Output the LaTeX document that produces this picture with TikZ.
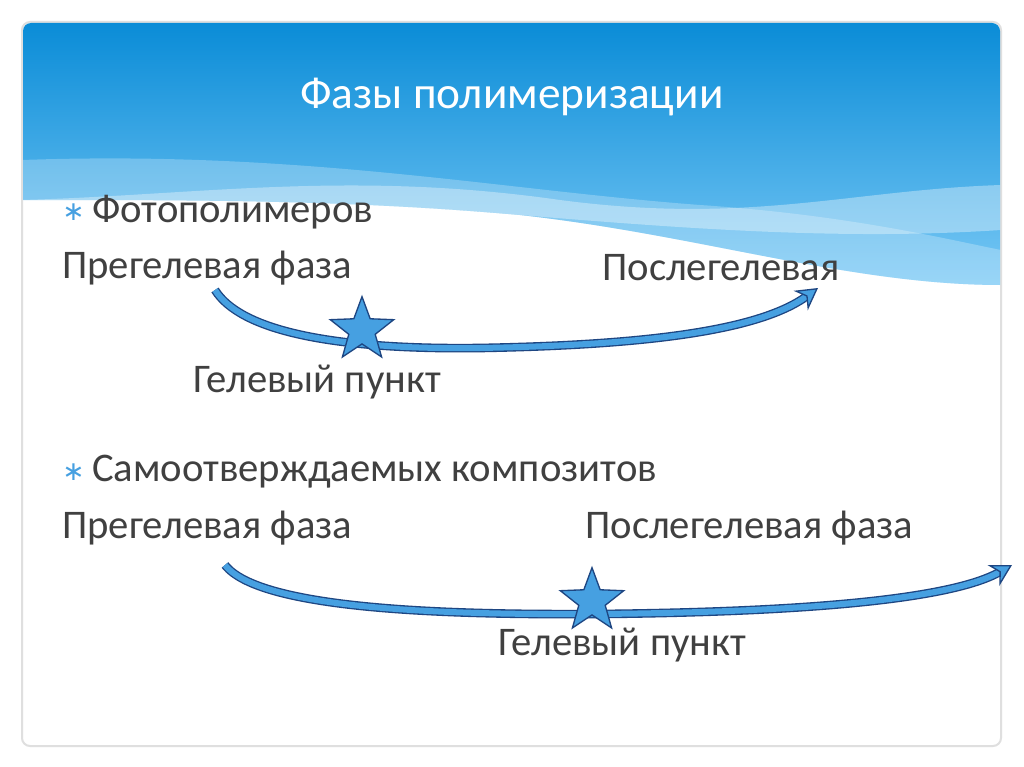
\documentclass[tikz,border=0pt]{standalone}
\usepackage{fontspec}
\setmainfont{Carlito}
\usetikzlibrary{shapes.geometric,arrows.meta}
\definecolor{hdtop}{RGB}{10,140,215}
\definecolor{hdbot}{RGB}{120,200,245}
\definecolor{arrfill}{RGB}{70,160,225}
\definecolor{arrline}{RGB}{30,70,130}
\definecolor{txt}{RGB}{64,64,64}
\tikzset{
 body/.style={anchor=west,font=\fontsize{30.5}{34}\selectfont,text=txt,inner sep=0},
 bul/.style={anchor=west,font=\fontsize{20}{22}\selectfont,text=arrfill,inner sep=0},
 curvearr/.style={draw=arrline,line width=1pt,double=arrfill,double distance=4.5pt,-{Stealth[length=16pt,width=18pt,fill=arrfill]}},
 gelstar/.style={star,star points=5,star point ratio=2.4,minimum size=50pt,fill=arrfill,draw=arrline,line width=1pt,inner sep=0}
}
\begin{document}
\begin{tikzpicture}[x=0.75pt,y=-0.75pt]
\useasboundingbox (0,0) rectangle (1024,767);
\fill[white] (0,0) rectangle (1024,767);
\draw[gray!25,line width=1.5pt,rounded corners=6pt] (22,22) rectangle (1001,746);
\begin{scope}
\clip[rounded corners=6pt] (23,23) rectangle (1000,745);
\shade[top color=hdtop,bottom color=hdbot] (22,22) -- (1001,22) -- (1001,285)
 .. controls (850,285) and (700,235) .. (520,215) .. controls (350,200) and (200,200) .. (22,200) -- cycle;
\fill[white,opacity=0.35] (22,200) .. controls (200,195) and (350,170) .. (560,200) .. controls (750,225) and (850,190) .. (1001,185) -- (1001,230) .. controls (850,240) and (700,230) .. (520,215) .. controls (350,200) and (200,205) .. (22,205) -- cycle;
\fill[white,opacity=0.25] (22,160) .. controls (300,150) and (500,190) .. (700,205) .. controls (850,215) and (950,240) .. (1001,250) -- (1001,285) .. controls (850,285) and (700,235) .. (520,215) .. controls (350,200) and (200,200) .. (22,200) -- cycle;
\end{scope}
\node[anchor=west,font=\fontsize{34}{40}\selectfont,text=white,inner sep=0] (title) at (300,97) {Фазы полимеризации};
\node[bul] (b1) at (62,212) {\fontspec{DejaVu Sans}∗};
\node[body] (t1) at (92,212) {Фотополимеров};
\node[body] (pre1) at (62,268) {Прегелевая фаза};
\node[body] (post1) at (602,268) {Послегелевая};
\coordinate (s1) at (215,290);
\coordinate (e1) at (818,288);
\draw[curvearr] (s1) .. controls (240,330) and (330,350) .. (480,348) .. controls (650,345) and (760,330) .. (e1);
\node[gelstar] (star1) at (362,330) {};
\node[body] (g1) at (193,382) {Гелевый пункт};
\node[bul] (b2) at (62,472) {\fontspec{DejaVu Sans}∗};
\node[body] (t2) at (92,472) {Самоотверждаемых композитов};
\node[body] (pre2) at (62,528) {Прегелевая фаза};
\node[body] (post2) at (585,528) {Послегелевая фаза};
\coordinate (s2) at (225,565);
\coordinate (e2) at (1012,565);
\draw[curvearr] (s2) .. controls (260,610) and (450,615) .. (600,614) .. controls (800,612) and (950,600) .. (e2);
\node[gelstar] (star2) at (592,601) {};
\node[body] (g2) at (498,645) {Гелевый пункт};
\end{tikzpicture}
\end{document}
